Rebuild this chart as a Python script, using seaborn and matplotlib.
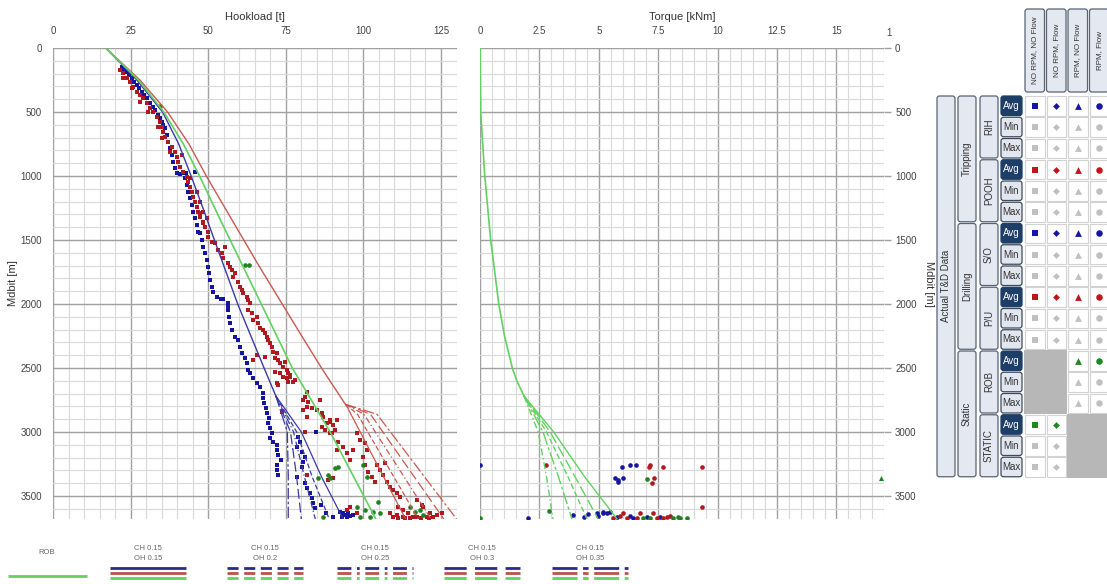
import numpy as np
import matplotlib
matplotlib.use("Agg")
import matplotlib.pyplot as plt
import seaborn as sns
from matplotlib.patches import FancyBboxPatch, Rectangle
from matplotlib.ticker import MultipleLocator, FuncFormatter

# ---------------------------------------------------------------- model lines
# Hookload models above the open-hole section (hookload t, bit depth m)
so_depth = [0, 250, 500, 750, 1000, 1250, 1500, 2000, 2500, 2719]
so_hook = [17, 27, 35.3, 40.5, 44.5, 48.3, 52, 59.5, 68, 71.8]
pu_depth = [0, 250, 500, 750, 1000, 1200, 1700, 2237, 2500, 2784]
pu_hook = [17, 28, 36.9, 43.8, 49.4, 54.2, 66.3, 79.8, 86.5, 94.2]
rob_depth = [0, 250, 500, 750, 1000, 1357, 2000, 2500, 3000, 3680]
rob_hook = [17, 27.5, 35.7, 42, 47.2, 54.2, 67.1, 77.1, 89.3, 104]

# Open-hole friction factor sensitivities
oh_factors = ["0.15", "0.2", "0.25", "0.3", "0.35"]
so_oh_depth = [2719, 3000, 3350, 3680]
so_oh_hook = {
    "0.15": [71.8, 80.0, 86.5, 93.5],
    "0.2": [71.8, 78.5, 83.5, 89.0],
    "0.25": [71.8, 77.5, 81.0, 84.5],
    "0.3": [71.8, 76.5, 78.5, 80.0],
    "0.35": [71.8, 75.5, 75.8, 75.8],
}
pu_oh_depth = [2784, 2810, 2862, 3680]
pu_oh_hook = {
    "0.15": [94.2, 94.9, 96.0, 113.6],
    "0.2": [94.2, 95.6, 98.1, 117.7],
    "0.25": [94.2, 96.3, 100.2, 121.8],
    "0.3": [94.2, 97.0, 102.3, 125.9],
    "0.35": [94.2, 97.7, 104.4, 130.0],
}

# Off-bottom rotating torque (kNm)
trq_depth = [0, 500, 1000, 1500, 2000, 2250, 2500, 2600, 2719]
trq_val = [0, 0.03, 0.2, 0.45, 0.79, 1.03, 1.36, 1.55, 1.85]
trq_oh_depth = [2719, 3000, 3350, 3680]
trq_oh_val = {
    "0.15": [1.85, 3.10, 4.40, 5.77],
    "0.2": [1.85, 2.80, 3.70, 4.50],
    "0.25": [1.85, 2.45, 2.80, 3.07],
    "0.3": [1.85, 2.95, 4.00, 4.97],
    "0.35": [1.85, 2.65, 3.30, 3.87],
}

# ---------------------------------------------------------------- measured data
# RIH average hookload (t, m)
rih_pts = [
    (22.1, 146), (22.9, 165), (23.7, 185), (24.4, 210), (25.3, 237), (26.1, 262),
    (27.0, 289), (27.8, 315), (28.6, 341), (29.4, 367), (30.2, 393), (31.3, 432),
    (32.1, 458), (32.9, 484), (33.9, 523), (34.4, 550), (35.0, 576), (35.6, 602),
    (36.1, 628), (36.6, 680), (37.2, 732), (37.7, 784), (38.2, 836), (38.8, 888),
    (39.3, 940), (40.1, 979), (41.0, 981), (41.8, 979), (43.0, 975), (45.8, 968),
    (42.5, 1018), (43.1, 1070), (43.6, 1122), (44.1, 1174), (44.7, 1227),
    (45.2, 1279), (45.7, 1331), (46.3, 1383), (46.8, 1435), (47.4, 1448),
    (47.9, 1500), (48.4, 1552), (49.0, 1604), (49.5, 1656), (50.0, 1708),
    (50.4, 1760), (50.6, 1812), (51.1, 1865), (51.7, 1904), (52.7, 1943),
    (54.0, 1958), (54.9, 1964), (56.5, 1995), (56.3, 2020), (56.5, 2047),
    (56.8, 2099), (57.0, 2151), (57.6, 2203), (58.6, 2255), (59.7, 2281),
    (60.2, 2333), (60.8, 2385), (61.9, 2424), (62.4, 2464), (62.9, 2516),
    (63.5, 2542), (64.5, 2581), (65.6, 2620), (66.7, 2646), (67.8, 2698),
    (67.6, 2737), (68.0, 2776), (68.6, 2815), (69.1, 2854), (69.7, 2893),
    (69.4, 2932), (69.9, 2971), (70.4, 3010), (69.9, 3049), (71.0, 3076),
    (72.1, 3102), (72.3, 3141), (72.6, 3180), (73.4, 3219), (72.1, 3258),
    (72.3, 3297), (72.6, 3336), (84.7, 2997), (79.0, 3036), (79.5, 3076),
    (78.5, 3115), (80.1, 3154), (81.2, 3193), (80.6, 3232), (80.1, 3271),
    (78.5, 3349), (81.2, 3401), (81.7, 3440), (82.8, 3479), (83.3, 3518),
    (83.8, 3557), (86.5, 3570), (84.4, 3596), (88.1, 3635), (90.3, 3661),
    (92.5, 3622), (93.5, 3635), (94.1, 3648), (95.2, 3635), (95.7, 3656),
    (93.0, 3661), (94.6, 3661), (96.8, 3648),
]

# POOH average hookload (t, m)
pooh_pts = [
    (21.6, 172), (22.7, 198), (23.7, 237), (22.7, 237), (24.8, 263), (25.9, 302),
    (25.3, 315), (27.0, 341), (28.0, 367), (29.1, 393), (28.0, 419), (30.2, 432),
    (31.3, 471), (32.3, 497), (30.7, 497), (33.4, 536), (34.5, 575), (35.0, 615),
    (33.9, 615), (35.5, 654), (36.1, 693), (35.0, 706), (37.2, 732), (38.2, 771),
    (39.3, 810), (37.7, 810), (39.8, 849), (41.5, 836), (40.4, 888), (40.9, 927),
    (42.0, 966), (43.1, 1005), (44.1, 1018), (43.6, 1044), (44.1, 1083),
    (44.7, 1122), (46.3, 1122), (45.2, 1161), (45.7, 1200), (47.4, 1200),
    (46.3, 1240), (46.8, 1279), (48.4, 1279), (47.4, 1318), (49.5, 1331),
    (48.4, 1357), (49.0, 1396), (50.0, 1435), (47.4, 1292), (48.4, 1370),
    (50.0, 1474), (51.1, 1513), (52.2, 1526), (55.4, 1552), (53.3, 1578),
    (54.3, 1604), (54.9, 1643), (56.5, 1682), (57.0, 1708), (57.6, 1734),
    (58.6, 1760), (58.1, 1786), (59.7, 1825), (60.2, 1865), (60.8, 1891),
    (61.3, 1917), (62.4, 1943), (62.9, 1969), (63.5, 1995), (62.9, 2047),
    (64.0, 2073), (65.6, 2099), (64.5, 2125), (66.2, 2151), (66.7, 2190),
    (67.8, 2203), (68.3, 2229), (68.8, 2255), (69.4, 2281), (69.9, 2307),
    (70.4, 2333), (71.0, 2372), (72.1, 2385), (65.6, 2398), (68.3, 2411),
    (71.5, 2424), (72.6, 2437), (64.5, 2437), (74.7, 2450), (73.1, 2464),
    (74.2, 2490), (75.3, 2516), (71.5, 2529), (75.8, 2542), (73.1, 2542),
    (76.4, 2555), (74.2, 2568), (76.4, 2568), (75.3, 2581), (78.0, 2594),
    (77.4, 2607), (75.8, 2607), (72.1, 2620), (72.6, 2633), (81.7, 2685),
    (81.2, 2724), (80.7, 2750), (86.0, 2750), (82.3, 2763), (81.7, 2802),
    (83.3, 2815), (85.0, 2828), (80.7, 2828), (73.7, 2841), (86.6, 2854),
    (87.1, 2880), (81.7, 2880), (91.4, 2906), (89.2, 2906), (89.2, 2919),
    (88.2, 2932), (90.3, 2945), (86.6, 2958), (87.6, 2984), (90.9, 2984),
    (81.2, 2997), (89.2, 3010), (89.8, 3010), (97.8, 3010), (98.9, 3062),
    (91.9, 3076), (100.5, 3089), (93.5, 3115), (91.4, 3141), (96.8, 3141),
    (101.1, 3141), (94.6, 3167), (100.0, 3193), (95.7, 3219), (107.0, 3245),
    (100.5, 3258), (104.3, 3258), (105.4, 3297), (101.6, 3310), (81.7, 3336),
    (106.4, 3336), (102.7, 3349), (90.3, 3362), (88.7, 3375), (103.7, 3388),
    (107.5, 3388), (108.6, 3427), (109.6, 3453), (110.7, 3479), (111.8, 3505),
    (117.2, 3531), (118.8, 3570), (111.3, 3583), (119.3, 3583), (95.7, 3583),
    (112.9, 3609), (94.6, 3609), (114.5, 3635), (121.5, 3635), (108.6, 3635),
    (97.8, 3635), (125.2, 3630), (123.6, 3648), (110.7, 3648), (112.9, 3661),
    (117.2, 3661), (120.4, 3661), (115.0, 3674), (109.5, 3668), (111.0, 3675),
    (113.5, 3670), (116.0, 3668), (118.5, 3675), (121.0, 3672), (122.5, 3665),
]

# Rotating off-bottom / static readings (t, m)
rob_pts = [
    (34.5, 455), (61.9, 1695), (63.3, 1695), (85.5, 3362), (88.7, 3336),
    (89.2, 3362), (90.9, 3284), (91.9, 3271), (100.0, 3258), (101.1, 3349),
    (104.8, 3544), (97.8, 3583), (100.5, 3609), (103.2, 3622), (105.4, 3635),
    (98.9, 3661), (102.1, 3661), (87.1, 3661), (115.0, 3583), (116.6, 3622),
    (118.2, 3609), (119.3, 3648),
]

# Surface torque readings (kNm, m)
trq_blue = [
    (0.0, 3258), (5.96, 3276), (6.31, 3258), (6.57, 3258), (5.68, 3357),
    (5.82, 3388), (6.03, 3362), (5.79, 3375), (2.03, 3674), (3.90, 3648),
    (4.39, 3667), (4.56, 3641), (4.91, 3635), (4.98, 3656), (5.16, 3622),
    (5.19, 3635), (5.33, 3630), (5.47, 3627), (5.75, 3661), (6.31, 3656),
    (6.45, 3669), (7.02, 3661), (7.58, 3661),
]
trq_red = [
    (7.15, 3258), (7.13, 3276), (7.72, 3276), (9.36, 3276), (7.23, 3401),
    (7.32, 3362), (9.36, 3588), (2.78, 3258), (5.61, 3669), (5.89, 3653),
    (6.03, 3630), (6.17, 3669), (6.59, 3669), (6.73, 3635), (7.30, 3635),
    (7.44, 3669), (7.72, 3669), (7.86, 3661), (8.00, 3656),
]
trq_green = [
    (7.02, 3367), (0.0, 3669), (2.92, 3614), (6.87, 3669), (7.16, 3669),
    (8.14, 3669), (8.35, 3661), (8.42, 3669), (8.70, 3669),
]
trq_green_tri = [(16.87, 3357)]

# ---------------------------------------------------------------- styles
C_BLUE_LINE, C_RED_LINE, C_GREEN_LINE = "#3a3aa6", "#c9584f", "#5fd25f"
C_BLUE_PT, C_RED_PT, C_GREEN_PT = "#1515a0", "#b0191e", "#1f821f"
OH_DASH = {
    "0.15": "-",
    "0.2": (0, (4, 2)),
    "0.25": (0, (5, 2, 1, 2)),
    "0.3": (0, (8, 3)),
    "0.35": (0, (9, 2, 2, 2)),
}

sns.set_theme(style="white")
plt.rcParams["font.family"] = ["Liberation Sans", "DejaVu Sans"]
NARROW = ["Liberation Sans Narrow", "Liberation Sans", "DejaVu Sans"]

W, H = 1107, 584
fig = plt.figure(figsize=(W / 100, H / 100), dpi=100)


def px_axes(x0, y0, x1, y1):
    return fig.add_axes([x0 / W, 1 - y1 / H, (x1 - x0) / W, (y1 - y0) / H])


ax_h = px_axes(53, 48, 456.5, 519)
ax_t = px_axes(480, 48, 884, 519)

fmt = FuncFormatter(lambda v, p: f"{v:g}")
for ax in (ax_h, ax_t):
    ax.set_ylim(3680, 0)
    ax.yaxis.set_major_locator(MultipleLocator(500))
    ax.yaxis.set_minor_locator(MultipleLocator(100))
    ax.grid(which="major", color="#a0a0a0", lw=1.0)
    ax.grid(which="minor", color="#d9d9d9", lw=0.8)
    ax.set_axisbelow(True)
    for s in ax.spines.values():
        s.set_visible(False)
    ax.xaxis.tick_top()
    ax.xaxis.set_label_position("top")
    ax.xaxis.set_major_formatter(fmt)
    ax.tick_params(axis="x", which="both", length=0, pad=9, labelsize=7, labelcolor="#444")
    ax.tick_params(axis="y", which="major", length=5, color="#a0a0a0", width=1,
                   labelsize=7, labelcolor="#444", pad=3)
    ax.tick_params(axis="y", which="minor", length=0)

ax_h.set_xlim(0, 130)
ax_h.xaxis.set_major_locator(MultipleLocator(25))
ax_h.xaxis.set_minor_locator(MultipleLocator(5))
ax_t.set_xlim(0, 17)
ax_t.xaxis.set_major_locator(MultipleLocator(2.5))
ax_t.xaxis.set_minor_locator(MultipleLocator(0.5))
ax_t.yaxis.tick_right()
ax_t.yaxis.set_label_position("right")


def scatter(ax, pts, color, marker, size):
    arr = np.array(pts, dtype=float)
    sns.scatterplot(x=arr[:, 0], y=arr[:, 1], ax=ax, color=color, marker=marker,
                    s=size, linewidth=0, legend=False, zorder=2)


def line(ax, x, y, color, ls="-", lw=1.0):
    sns.lineplot(x=x, y=y, ax=ax, color=color, linestyle=ls, lw=lw,
                 sort=False, estimator=None, legend=False, zorder=3)


# Hookload panel
scatter(ax_h, rih_pts, C_BLUE_PT, "s", 10)
scatter(ax_h, pooh_pts, C_RED_PT, "s", 10)
scatter(ax_h, rob_pts, C_GREEN_PT, "o", 11)
line(ax_h, so_hook, so_depth, C_BLUE_LINE)
line(ax_h, pu_hook, pu_depth, C_RED_LINE)
line(ax_h, rob_hook, rob_depth, C_GREEN_LINE, lw=1.2)
for f in oh_factors:
    line(ax_h, so_oh_hook[f], so_oh_depth, C_BLUE_LINE, OH_DASH[f], 0.9)
    line(ax_h, pu_oh_hook[f], pu_oh_depth, C_RED_LINE, OH_DASH[f], 0.9)

# Torque panel
scatter(ax_t, trq_blue, C_BLUE_PT, "o", 11)
scatter(ax_t, trq_red, C_RED_PT, "o", 11)
scatter(ax_t, trq_green, C_GREEN_PT, "o", 11)
scatter(ax_t, trq_green_tri, C_GREEN_PT, "^", 13)
line(ax_t, trq_val, trq_depth, C_GREEN_LINE, lw=1.2)
for f in oh_factors:
    line(ax_t, trq_oh_val[f], trq_oh_depth, C_GREEN_LINE, OH_DASH[f], 1.0)

ax_h.set_xlabel("Hookload [t]", fontsize=8, color="#333", labelpad=4)
ax_t.set_xlabel("Torque [kNm]", fontsize=8, color="#333", labelpad=4)
ax_h.set_ylabel("Mdbit [m]", fontsize=8, color="#333", labelpad=2)
ax_t.set_ylabel("Mdbit [m]", fontsize=8, color="#333", labelpad=5, rotation=270, va="bottom")

# ---------------------------------------------------------------- overlay (legend + table)
ov = fig.add_axes([0, 0, 1, 1])
ov.set_xlim(0, W)
ov.set_ylim(H, 0)
ov.axis("off")

ov.text(889, 33, "1", fontsize=7, color="#444", ha="center", va="center")

# Bottom legend
leg_txt = dict(fontsize=5.5, color="#666", ha="center", va="center", family=NARROW)
ov.text(47, 553, "ROB", **leg_txt)
ov.plot([8, 87], [576, 576], color=C_GREEN_LINE, lw=2.0, solid_capstyle="butt")
leg_centres = [148, 265, 375, 482, 590]
for cx, f in zip(leg_centres, oh_factors):
    ov.text(cx, 548, "CH 0.15", **leg_txt)
    ov.text(cx, 559, f"OH {f}", **leg_txt)
    for yy, col in zip([568, 573, 578], ["#2a2a8c", "#c0504d", "#5fd25f"]):
        ov.plot([cx - 38, cx + 38], [yy, yy], color=col, lw=2.0, linestyle=OH_DASH[f],
                solid_capstyle="butt", dash_capstyle="butt")


def rbox(x0, y0, x1, y1, fc, ec, lw=0.9, r=2.5):
    ov.add_patch(FancyBboxPatch((x0, y0), x1 - x0, y1 - y0,
                                boxstyle=f"round,pad=0,rounding_size={r}",
                                fc=fc, ec=ec, lw=lw))


LIGHT, EDGE = "#e4e8f0", "#5a6372"
col_x = [1025, 1046.5, 1068, 1089.5]
CW = 19.5
headers = ["NO RPM, NO Flow", "NO RPM, Flow", "RPM, NO Flow", "RPM, Flow"]
for x0, h in zip(col_x, headers):
    rbox(x0, 9, x0 + CW, 92, LIGHT, EDGE)
    ov.text(x0 + CW / 2, 50, h, rotation=90, fontsize=5.8, color="#333",
            ha="center", va="center", family=NARROW)

ROW0, PITCH, RH = 96, 21.25, 19.5


def row_top(i):
    return ROW0 + i * PITCH


groups = ["RIH", "POOH", "S/O", "P/U", "ROB", "STATIC"]
group_col = ["#1616a0", "#c2141c", "#1616a0", "#c2141c", "#1e8a1e", "#1e8a1e"]
avail = [[0, 1, 2, 3]] * 4 + [[2, 3], [0, 1]]
cell_marks = [("s", 13), ("D", 12), ("^", 24), ("o", 22)]

# Unavailable combinations
ov.add_patch(Rectangle((1024, row_top(12) - 1), 42.5, 3 * PITCH, fc="#b7b7b7", ec="none"))
ov.add_patch(Rectangle((1067, row_top(15) - 1), W - 1067, 3 * PITCH, fc="#b7b7b7", ec="none"))

for g, name in enumerate(groups):
    for k, stat in enumerate(["Avg", "Min", "Max"]):
        i = g * 3 + k
        y0 = row_top(i)
        if stat == "Avg":
            rbox(1001, y0, 1022, y0 + RH, "#1d3e66", "#1d3e66")
            tc = "white"
        else:
            rbox(1001, y0, 1022, y0 + RH, "#e2e6ef", "#3d4a5c")
            tc = "#333"
        ov.text(1011.5, y0 + RH / 2, stat, fontsize=7, color=tc, ha="center",
                va="center", family=NARROW)
        for c in avail[g]:
            x0 = col_x[c]
            ov.add_patch(Rectangle((x0, y0), CW, RH, fc="white", ec="#d2d2d2", lw=0.8))
            m, s = cell_marks[c]
            ov.scatter([x0 + CW / 2], [y0 + RH / 2], marker=m, s=s, lw=0,
                       c=group_col[g] if stat == "Avg" else "#c0c0c0", zorder=3)
    ya, yb = row_top(g * 3), row_top(g * 3 + 2) + RH
    rbox(980, ya, 998, yb, LIGHT, EDGE)
    ov.text(989, (ya + yb) / 2, name, rotation=90, fontsize=7, color="#333",
            ha="center", va="center", family=NARROW)

for j, name in enumerate(["Tripping", "Drilling", "Static"]):
    ya, yb = row_top(j * 6), row_top(j * 6 + 5) + RH
    rbox(958, ya, 976, yb, LIGHT, EDGE)
    ov.text(967, (ya + yb) / 2, name, rotation=90, fontsize=7, color="#333",
            ha="center", va="center", family=NARROW)

rbox(937, row_top(0), 955, row_top(17) + RH, LIGHT, EDGE)
ov.text(946, (row_top(0) + row_top(17) + RH) / 2, "Actual T&D Data", rotation=90,
        fontsize=7, color="#333", ha="center", va="center", family=NARROW)

fig.savefig("out.png", dpi=100)
